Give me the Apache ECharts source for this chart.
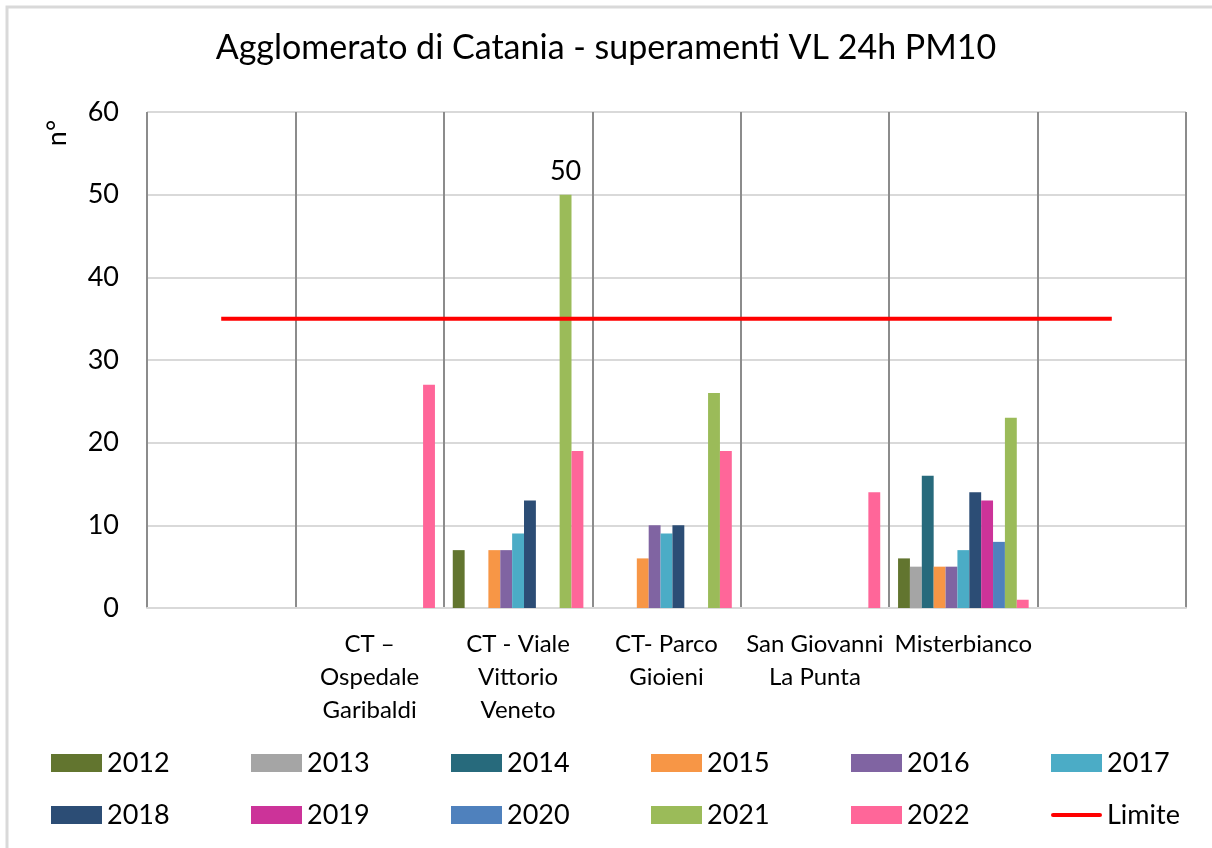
<!DOCTYPE html>
<html>
<head>
<meta charset="utf-8">
<script src="https://cdn.jsdelivr.net/npm/echarts@6/dist/echarts.min.js"></script>
<style>
html,body{margin:0;padding:0;background:#fff;}
#chart{width:1212px;height:848px;}
</style>
</head>
<body>
<div id="chart"></div>
<script>
const titleText = 'Agglomerato di Catania - superamenti VL 24h PM10';
const categories = ['', 'CT –\nOspedale\nGaribaldi', 'CT - Viale\nVittorio\nVeneto', 'CT- Parco\nGioieni', 'San Giovanni\nLa Punta', 'Misterbianco', ''];
const years = ['2012','2013','2014','2015','2016','2017','2018','2019','2020','2021','2022'];
const yearColors = ['#62752F','#A5A5A5','#276A7C','#F79646','#8064A2','#4BACC6','#2C4D75','#CC3399','#4F81BD','#9BBB59','#FF6699'];
const s2012 = [null, null, 7, null, null, 6, null];
const s2013 = [null, null, null, null, null, 5, null];
const s2014 = [null, null, null, null, null, 16, null];
const s2015 = [null, null, 7, 6, null, 5, null];
const s2016 = [null, null, 7, 10, null, 5, null];
const s2017 = [null, null, 9, 9, null, 7, null];
const s2018 = [null, null, 13, 10, null, 14, null];
const s2019 = [null, null, null, null, null, 13, null];
const s2020 = [null, null, null, null, null, 8, null];
const s2021 = [null, null, 50, 26, null, 23, null];
const s2022 = [null, 27, 19, 19, 14, 1, null];
const limite = [35, 35, 35, 35, 35, 35, 35];
const yTicks = {min: 0, max: 60, interval: 10};
const labeledBar = {year: '2021', index: 2};

const allSeries = [s2012,s2013,s2014,s2015,s2016,s2017,s2018,s2019,s2020,s2021,s2022];
const FONT = 'Lato';

const series = years.map((y, k) => ({
  name: y,
  type: 'bar',
  barGap: '0%',
  barCategoryGap: '12%',
  itemStyle: {color: yearColors[k]},
  data: allSeries[k].map((v, i) => (y === labeledBar.year && i === labeledBar.index)
    ? {value: v, label: {show: true, position: 'top', distance: 10, fontSize: 27, fontFamily: FONT, color: '#000'}}
    : v)
}));
series.push({
  name: 'Limite',
  type: 'line',
  symbol: 'none',
  lineStyle: {color: '#FF0000', width: 4},
  itemStyle: {color: '#FF0000'},
  data: limite,
  z: 5
});

const legendCommon = {
  orient: 'horizontal',
  left: 51,
  width: 1200,
  padding: 0,
  itemWidth: 51,
  itemHeight: 18,
  itemGap: 44,
  textStyle: {fontFamily: FONT, fontSize: 27, color: '#000', width: 100, lineHeight: 30}
};
const lineIcon = 'path://M2,0 L48,0 A2,2 0 0 1 48,4 L2,4 A2,2 0 0 1 2,0 Z';
const legendItem = n => n === 'Limite'
  ? {name: n, icon: lineIcon, itemStyle: {color: '#FF0000'}}
  : {name: n, icon: 'rect'};

const chart = echarts.init(document.getElementById('chart'), null, {renderer: 'canvas'});
chart.setOption({
  animation: false,
  backgroundColor: '#fff',
  title: {
    text: titleText,
    left: 'center',
    top: 31,
    padding: 0,
    textStyle: {fontFamily: FONT, fontSize: 34, fontWeight: 'normal', color: '#000'}
  },
  graphic: [
    {type: 'rect', shape: {x: 7, y: 7, width: 1400, height: 1000}, style: {fill: 'none', stroke: '#D9D9D9', lineWidth: 3}, silent: true},
    {type: 'text', x: 57, y: 133, rotation: Math.PI / 2,
     style: {text: 'n°', fontFamily: FONT, fontSize: 27, fill: '#000', align: 'center', verticalAlign: 'middle'}}
  ],
  legend: [
    Object.assign({}, legendCommon, {top: 748, data: years.slice(0, 6).map(legendItem)}),
    Object.assign({}, legendCommon, {top: 800, data: years.slice(6).concat(['Limite']).map(legendItem)})
  ],
  grid: {left: 147, right: 26, top: 112, bottom: 240, containLabel: false},
  xAxis: {
    type: 'category',
    data: categories,
    boundaryGap: true,
    axisLine: {show: true, lineStyle: {color: '#D9D9D9', width: 2}},
    axisTick: {show: false},
    splitLine: {show: true, interval: 0, lineStyle: {color: '#8C8C8C', width: 2}},
    axisLabel: {interval: 0, margin: 20, fontFamily: FONT, fontSize: 24, lineHeight: 33, color: '#000', align: 'center'}
  },
  yAxis: {
    type: 'value',
    min: yTicks.min,
    max: yTicks.max,
    interval: yTicks.interval,
    axisLine: {show: false},
    axisTick: {show: false},
    splitLine: {show: true, lineStyle: {color: '#D9D9D9', width: 2}},
    axisLabel: {margin: 28, fontFamily: FONT, fontSize: 27, color: '#000'}
  },
  series: series
});
</script>
</body>
</html>
